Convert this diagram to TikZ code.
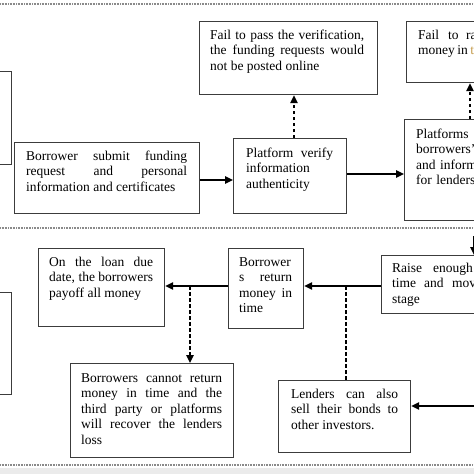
\documentclass[tikz,border=0pt]{standalone}
\usepackage{fontspec}
\setmainfont{Liberation Serif}
\usetikzlibrary{arrows.meta,calc}
\definecolor{boxc}{HTML}{3C3C3C}
\definecolor{sepc}{HTML}{8A8A8A}
\definecolor{bandc}{HTML}{EBEBEB}
\definecolor{goldc}{HTML}{C49A4A}
\newcommand\fsz{\fontsize{13.5pt}{15.5pt}\selectfont\hyphenpenalty=10000\relax}
\tikzset{
  box/.style={draw=boxc, line width=1.2pt, inner sep=0pt, anchor=north west},
  txt/.style={text width=#1, inner sep=0pt, anchor=north west, align=justify, font=\fsz},
  ltxt/.style={text width=#1, inner sep=0pt, anchor=north west, align=left, font=\fsz},
  arr/.style={draw=black, line width=1.4pt, -{Triangle[length=8pt,width=7.5pt]}},
  darr/.style={arr, dash pattern=on 3.5pt off 2.5pt},
  dln/.style={draw=black, line width=1.2pt, dash pattern=on 3.5pt off 2.5pt},
  sepline/.style={draw=sepc, line width=1.6pt, dash pattern=on 1pt off 0.6pt},
}
\begin{document}
\begin{tikzpicture}[x=1pt,y=-1pt]
\useasboundingbox (0,0) rectangle (474,474);
\clip (0,0) rectangle (474,474);
\fill[white] (0,0) rectangle (474,474);
% separators
\fill[bandc] (0,468) rectangle (474,474);
\draw[sepline] (0,4) -- (474,4);
\draw[sepline] (0,228) -- (474,228);
\draw[sepline] (0,465) -- (474,465);
% boxes
\node[box, minimum width=31pt, minimum height=93pt] (b1) at (-20,71) {};
\node[box, minimum width=185pt, minimum height=71pt] (b2) at (14,142) {};
\node[box, minimum width=178pt, minimum height=73pt] (b3) at (199,21) {};
\node[box, minimum width=113pt, minimum height=75pt] (b4) at (233,138) {};
\node[box, minimum width=100pt, minimum height=101pt] (b5) at (404,119) {};
\node[box, minimum width=100pt, minimum height=61pt] (b6) at (406,21) {};
\node[box, minimum width=31pt, minimum height=102pt] (b7) at (-20,292) {};
\node[box, minimum width=126pt, minimum height=78pt] (b8) at (38,248) {};
\node[box, minimum width=75pt, minimum height=80pt] (b9) at (228,248) {};
\node[box, minimum width=120pt, minimum height=58pt] (b10) at (381,255) {};
\node[box, minimum width=163pt, minimum height=94pt] (b11) at (70,363) {};
\node[box, minimum width=132pt, minimum height=72pt] (b12) at (278,380) {};
% texts
\node[txt=161pt] (t2) at (26,149.15) {\strut Borrower submit funding\linebreak request and personal\linebreak information and certificates};
\node[txt=154pt] (t3) at (210,28.15) {\strut Fail to pass the verification,\linebreak the funding requests would\linebreak not be posted online};
\node[txt=87pt] (t4) at (246,146.15) {\strut Platform verify\linebreak information\newline authenticity};
\node[ltxt=120pt] (t5) at (416,127.15) {\strut Platforms\newline borrowers’\newline and inform\newline for lenders};
\node[ltxt=120pt] (t6) at (418,28.15) {\strut Fail\hspace{9pt}to\hspace{7.5pt}ra\newline money\hspace{2.5pt}in\hspace{2.5pt}{\color{goldc}t}};
\node[txt=104pt] (t8) at (49,255.15) {\strut On the loan due\linebreak date, the borrowers\linebreak payoff all money};
\node[txt=53pt] (t9) at (239,255.15) {\strut Borrower\linebreak s return\linebreak money in\linebreak time};
\node[ltxt=120pt] (t10) at (392,261.15) {\strut Raise\hspace{11pt}enough\newline time\hspace{8pt}and\hspace{8.5pt}mov\newline stage};
\node[txt=141pt] (t11) at (81,371.15) {\strut Borrowers cannot return\linebreak money in time and the\linebreak third party or platforms\linebreak will recover the lenders\linebreak loss};
\node[txt=107pt] (t12) at (291,387.15) {\strut Lenders can also\linebreak sell their bonds to\linebreak other investors.};
% connectors top
\draw[arr] (b2.east |- 0,180) -- (b4.west |- 0,180);
\draw[arr] (b4.east |- 0,174) -- (b5.west |- 0,174);
\draw[darr] (b4.north -| 294,0) -- (b3.south -| 294,0);
\draw[darr] (b5.north -| 470,0) -- (b6.south -| 470,0);
\coordinate (top10) at (474,236);
\draw[arr] (top10) -- (b10.north -| top10);
% connectors bottom
\draw[arr] (b10.west |- 0,286) -- (b9.east |- 0,286);
\draw[arr] (b9.west |- 0,286) -- (b8.east |- 0,286);
\coordinate (j1) at (190,286);
\draw[darr] (j1) -- (b11.north -| j1);
\coordinate (j2) at (346,286);
\draw[dln] (j2) -- (b12.north -| j2);
\coordinate (r12) at (480,406);
\draw[arr] (r12) -- (b12.east |- r12);
\end{tikzpicture}
\end{document}
